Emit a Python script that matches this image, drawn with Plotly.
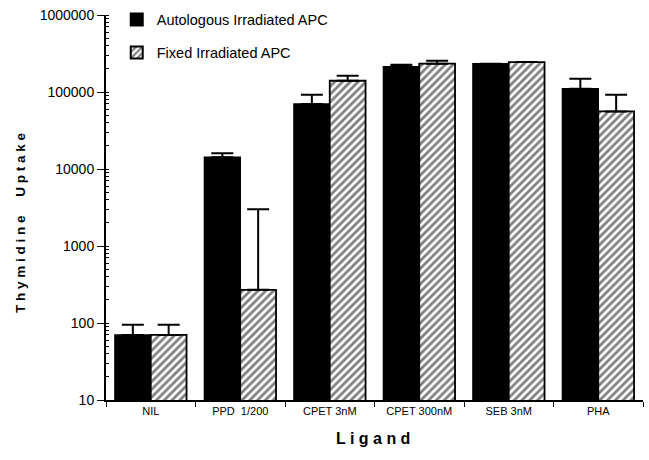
import plotly.graph_objects as go

categories = ["NIL", "PPD  1/200", "CPET 3nM", "CPET 300nM", "SEB 3nM", "PHA"]
autologous = [70, 14200, 70000, 213000, 233000, 110000]
autologous_err_top = [95, 16000, 92000, 226000, 233000, 149000]
fixed = [70, 270, 140000, 233000, 245000, 56000]
fixed_err_top = [95, 3000, 163000, 255000, 245000, 92000]

auto_err = [t - v for t, v in zip(autologous_err_top, autologous)]
fixed_err = [t - v for t, v in zip(fixed_err_top, fixed)]

font_family = "Liberation Sans, Arial, sans-serif"

fig = go.Figure()
fig.add_trace(go.Bar(
    x=categories, y=autologous, name="Autologous Irradiated APC", legendgroup="a",
    marker=dict(color="black", line=dict(color="black", width=1.5)),
    error_y=dict(type="data", array=auto_err, arrayminus=[0]*6, symmetric=False,
                 color="black", thickness=2, width=11),
))
fig.add_trace(go.Bar(
    x=categories, y=fixed, name="Fixed Irradiated APC", legendgroup="b",
    marker=dict(color="white", line=dict(color="black", width=1.8),
                pattern=dict(shape="/", fgcolor="black", bgcolor="white", size=5.5, solidity=0.5)),
    error_y=dict(type="data", array=fixed_err, arrayminus=[0]*6, symmetric=False,
                 color="black", thickness=2, width=11),
))

fig.update_layout(
    width=649, height=460,
    margin=dict(l=106, r=6, t=15, b=60, autoexpand=False),
    plot_bgcolor="white", paper_bgcolor="white",
    barmode="group", bargap=0.2, bargroupgap=0,
    font=dict(family=font_family, color="black", size=12),
    showlegend=True,
    legend=dict(x=0.02, y=0.992, xref="paper", yref="container", xanchor="left", yanchor="top",
                bgcolor="rgba(0,0,0,0)", font=dict(size=14.5, color="black"),
                itemsizing="constant", tracegroupgap=11),
    xaxis=dict(
        showline=True, linecolor="black", linewidth=2,
        ticks="outside", tickson="boundaries", ticklen=5, tickcolor="black",
        tickfont=dict(size=11, color="black"), range=[-0.5, 5.5],
        automargin=False,
    ),
    yaxis=dict(
        type="log", range=[1, 6],
        showline=True, linecolor="black", linewidth=2,
        ticks="outside", ticklen=7, tickcolor="black",
        tickvals=[10, 100, 1000, 10000, 100000, 1000000],
        ticktext=["10", "100", "1000", "10000", "100000", "1000000"],
        tickfont=dict(size=14, color="black"),
        showgrid=False, zeroline=False, automargin=False,
        minor=dict(ticks="inside", ticklen=3, tickcolor="black", showgrid=False,
                   dtick="D1"),
    ),
    annotations=[
        dict(text="<b>T h y m i d i n e     U p t a k e</b>", textangle=-90,
             xref="paper", yref="paper", x=-0.158, y=0.46, xanchor="center", yanchor="middle",
             showarrow=False, font=dict(size=13.5, color="black")),
        dict(text="<b>L i g a n d</b>",
             xref="paper", yref="paper", x=0.497, y=-0.099, xanchor="center", yanchor="middle",
             showarrow=False, font=dict(size=16, color="black")),
    ],
)

fig.write_html("out.html", config={"displayModeBar": False},
               post_script="document.body.style.margin='0';")
